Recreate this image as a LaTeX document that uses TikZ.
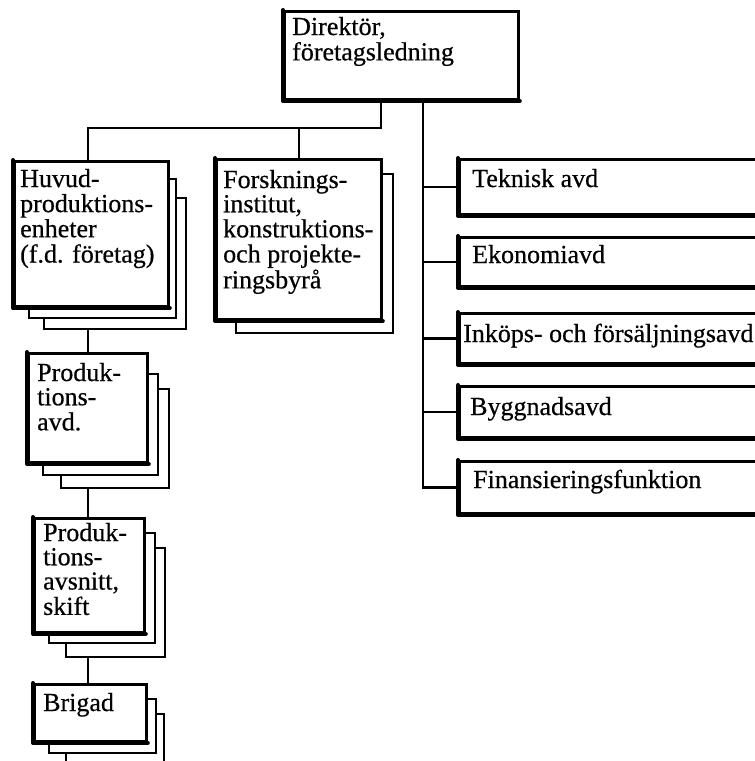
\documentclass[tikz,border=0pt]{standalone}
\usepackage{fontspec}
\newfontfamily\orgfont[FakeBold=0.5]{Liberation Serif}
\begin{document}
\begin{tikzpicture}[x=1pt,y=-1pt,
  mainbox/.style={draw, fill=white, line width=2.8pt, inner sep=0pt, anchor=north west},
  copybox/.style={draw, fill=white, line width=2.1pt, inner sep=0pt, anchor=north west},
  heavy/.style={line width=4pt, line cap=round, line join=round},
  conn/.style={line width=2.2pt, line join=miter},
  txt/.style={inner sep=0pt, anchor=base west, font=\orgfont\fontsize{26}{23.5}\selectfont}]
\newcommand\mybx[6]{\node[#1, minimum width={#5-#3}, minimum height={#6-#4}] (#2) at (#3,#4) {};}
\newcommand\myheavy[1]{\draw[heavy] (#1.north west) -- (#1.south west) -- (#1.south east);}
\newcommand\mylines[1]{\begin{tabular}[t]{@{}l@{}}#1\end{tabular}}
\clip (0,0) rectangle (755,761);
\fill[white] (0,0) rectangle (755,761);
\coordinate (spine) at (88,0);
\coordinate (rs) at (423,0);
\coordinate (j1) at (381,128);
\coordinate (j2) at (88,128);
% Director
\mybx{mainbox}{dir}{283}{10}{517}{98}
\myheavy{dir}
% Huvudproduktionsenheter
\mybx{copybox}{huv3}{43}{197}{185}{328}
\mybx{copybox}{huv2}{28}{178}{175}{317}
\mybx{mainbox}{huv}{13}{160}{167}{305}
\myheavy{huv}
% Forskningsinstitut
\mybx{copybox}{for2}{235}{173}{392}{332}
\mybx{mainbox}{for}{215}{158}{380}{318}
\myheavy{for}
% right-hand boxes
\mybx{mainbox}{tek}{458}{158}{775}{213}
\mybx{mainbox}{eko}{458}{236}{775}{285}
\mybx{mainbox}{ink}{458}{312}{775}{362}
\mybx{mainbox}{byg}{458}{385}{775}{436}
\mybx{mainbox}{fin}{458}{460}{775}{512}
\foreach \n in {tek,eko,ink,byg,fin}{\myheavy{\n}}
% Produktionsavd
\mybx{copybox}{pa3}{60}{388}{168}{487}
\mybx{copybox}{pa2}{42}{373}{157}{474}
\mybx{mainbox}{pa}{27}{352}{146}{461}
\myheavy{pa}
% Produktionsavsnitt
\mybx{copybox}{ps3}{65}{547}{164}{656}
\mybx{copybox}{ps2}{48}{532}{154}{642}
\mybx{mainbox}{ps}{33}{517}{143}{631}
\myheavy{ps}
% Brigad
\mybx{copybox}{br3}{65}{713}{163}{766}
\mybx{copybox}{br2}{48}{698}{155}{752}
\mybx{mainbox}{br}{33}{683}{145}{740}
\myheavy{br}
% connectors
\draw[conn] (dir.south -| j1) -- (j1) -- (j2) -- (huv.north -| j2);
\draw[conn] (for.north) -- (for.north |- j1);
\draw[conn] (dir.south -| rs) -- (fin.west -| rs) -- (fin.west);
\foreach \n in {tek,eko,ink,byg}{\draw[conn] (\n.west -| rs) -- (\n.west);}
\draw[conn] (huv3.south -| spine) -- (pa.north -| spine);
\draw[conn] (pa3.south -| spine) -- (ps.north -| spine);
\draw[conn] (ps3.south -| spine) -- (br.north -| spine);
% texts
\node[txt] (dirT) at (292,35) {\mylines{Direktör,\\företagsledning}};
\node[txt] (huvT) at (20,187) {\mylines{Huvud-\\produktions-\\enheter\\(f.d. företag)}};
\node[txt] (forT) at (223,188) {\mylines{Forsknings-\\institut,\\konstruktions-\\och projekte-\\ringsbyrå}};
\node[txt] (tekT) at (472,187) {Teknisk avd};
\node[txt] (ekoT) at (472,263) {Ekonomiavd};
\node[txt] (inkT) at (463,342) {Inköps- och försäljningsavd};
\node[txt] (bygT) at (470,415) {Byggnadsavd};
\node[txt] (finT) at (473,488) {Finansieringsfunktion};
\node[txt] (paT) at (37,381) {\mylines{Produk-\\tions-\\avd.}};
\node[txt] (psT) at (43,541) {\mylines{Produk-\\tions-\\avsnitt,\\skift}};
\node[txt] (brT) at (43,711) {Brigad};
\end{tikzpicture}
\end{document}
